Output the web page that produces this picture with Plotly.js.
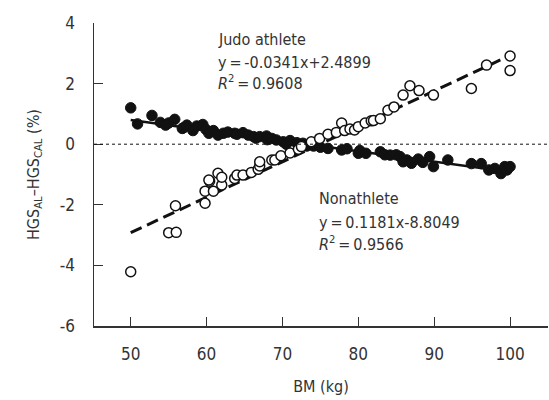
<!DOCTYPE html>
<html>
<head>
<meta charset="utf-8">
<script src="https://cdn.plot.ly/plotly-3.0.1.min.js"></script>
<style>html,body{margin:0;padding:0;background:#fff;}#chart{width:549px;height:400px;}</style>
</head>
<body>
<div id="chart"></div>
<script>
// Judo athletes (filled circles)
const judoBM = [50,50.9,52.8,53.9,54.6,55,55.8,56.8,57,57.4,58.2,58.7,59.5,59.9,60.3,60.9,61.5,62.2,62.8,63.7,64,64.8,65.5,66.2,66.5,67.0,67.9,68,68.6,69.2,70.1,70.5,71.0,71.9,72,72.7,73.2,74.1,75,76.0,77.8,78.5,80.0,80.2,81,82.9,83.5,84.2,85.0,85.5,85.9,86.4,86.9,87.0,87.9,88.5,89.4,89.9,91.8,94.9,96.2,97.2,98,98.8,99.3,99.6,100];
const judoDiff = [1.20,0.67,0.95,0.72,0.63,0.70,0.82,0.52,0.55,0.63,0.45,0.60,0.65,0.49,0.36,0.45,0.30,0.36,0.40,0.36,0.33,0.38,0.30,0.25,0.20,0.25,0.27,0.15,0.19,0.14,0.08,0.00,0.12,0.05,0.00,0.03,-0.06,-0.06,-0.10,-0.14,-0.19,-0.15,-0.30,-0.21,-0.30,-0.25,-0.35,-0.36,-0.35,-0.41,-0.58,-0.52,-0.60,-0.63,-0.49,-0.60,-0.41,-0.74,-0.52,-0.64,-0.64,-0.85,-0.80,-0.97,-0.74,-0.85,-0.74];
// Nonathletes (open circles)
const nonBM = [50,55.0,56.0,55.9,59.8,59.8,60.4,60.9,60.3,61.5,62.0,62.0,63.7,64.0,64.8,65.9,66.8,67.0,67.0,68.6,69.0,69.8,71.0,72.1,72.5,73.8,74.9,76.0,77.1,77.8,78.2,78.9,79.5,80.0,80.9,81.7,82.0,82.9,83.9,84.7,85.9,86.8,88.0,89.9,94.9,96.9,100,100];
const nonDiff = [-4.21,-2.92,-2.91,-2.03,-1.95,-1.55,-1.22,-1.55,-1.18,-0.96,-1.35,-1.09,-1.13,-1.02,-1.02,-0.93,-0.83,-0.72,-0.58,-0.52,-0.52,-0.38,-0.29,-0.17,-0.08,0.08,0.19,0.33,0.39,0.70,0.45,0.50,0.47,0.58,0.70,0.77,0.78,0.84,1.12,1.23,1.62,1.93,1.77,1.62,1.84,2.61,2.91,2.43];
// Fitted lines (end points)
const judoFitX = [50,100];
const judoFitY = [0.80,-0.92];
const nonFitX = [50,100];
const nonFitY = [-2.92,2.93];
const xTicks = [50,60,70,80,90,100];
const yTicks = [-6,-4,-2,0,2,4];

const FONT = "'Liberation Sans Narrow','DejaVu Sans Condensed','Arial Narrow',sans-serif";
const traces = [
  {x: judoFitX, y: judoFitY, mode:'lines', line:{color:'#111', width:2.5}, hoverinfo:'skip'},
  {x: nonFitX, y: nonFitY, mode:'lines', line:{color:'#111', width:3, dash:'12px,6px'}, hoverinfo:'skip'},
  {x: judoBM, y: judoDiff, mode:'markers', marker:{size:10.5, color:'#111', line:{color:'#111', width:1}}},
  {x: nonBM, y: nonDiff, mode:'markers', marker:{size:10, color:'#fff', line:{color:'#111', width:1.5}}}
];
const annFont = {family: FONT, size: 16, color:'#333'};
const T = '\u2009';
const layout = {
  width:549, height:400,
  margin:{l:94, r:1, t:23, b:74},
  paper_bgcolor:'#fff', plot_bgcolor:'#fff',
  showlegend:false,
  font:{family: FONT, color:'#333'},
  xaxis:{range:[45.16,105.0], tickvals:xTicks, ticktext:xTicks.map(String), ticks:'inside', ticklen:9, tickcolor:'#333', tickwidth:1,
    showline:true, linecolor:'#333', linewidth:1.5, showgrid:false, zeroline:false,
    tickfont:{family:FONT, size:17, color:'#333'}, ticklabelstandoff:12,
    title:{text:'BM (kg)', font:{family:FONT, size:16, color:'#333'}, standoff:18}},
  yaxis:{range:[-6,4], tickvals:yTicks, ticktext:yTicks.map(String), ticks:'inside', ticklen:9, tickcolor:'#333', tickwidth:1,
    showline:true, linecolor:'#333', linewidth:1.5, showgrid:false, zeroline:false,
    tickfont:{family:FONT, size:17, color:'#333'}, ticklabelstandoff:14,
    title:{text:'HGS<sub>AL</sub>–HGS<sub>CAL</sub> (%)', font:{family:FONT, size:16, color:'#333'}, standoff:16}},
  shapes:[{type:'line', xref:'paper', x0:0, x1:1, yref:'y', y0:0, y1:0, line:{color:'#111', width:1, dash:'dot'}}],
  annotations:[
    {xref:'x', yref:'y', x:61.25, y:3.44, xanchor:'left', yanchor:'middle', showarrow:false, text:'Judo athlete', font:annFont},
    {xref:'x', yref:'y', x:61.25, y:2.71, xanchor:'left', yanchor:'middle', showarrow:false, text:'y'+T+'='+T+'-0.0341x+2.4899', font:annFont},
    {xref:'x', yref:'y', x:61.25, y:2.02, xanchor:'left', yanchor:'middle', showarrow:false, text:'<i>R</i><sup>2</sup>'+T+'='+T+'0.9608', font:annFont},
    {xref:'x', yref:'y', x:74.6, y:-1.78, xanchor:'left', yanchor:'middle', showarrow:false, text:'Nonathlete', font:annFont},
    {xref:'x', yref:'y', x:74.6, y:-2.57, xanchor:'left', yanchor:'middle', showarrow:false, text:'y'+T+'='+T+'0.1181x-8.8049', font:annFont},
    {xref:'x', yref:'y', x:74.6, y:-3.27, xanchor:'left', yanchor:'middle', showarrow:false, text:'<i>R</i><sup>2</sup>'+T+'='+T+'0.9566', font:annFont}
  ]
};
Plotly.newPlot('chart', traces, layout, {displayModeBar:false, staticPlot:true});
</script>
</body>
</html>
